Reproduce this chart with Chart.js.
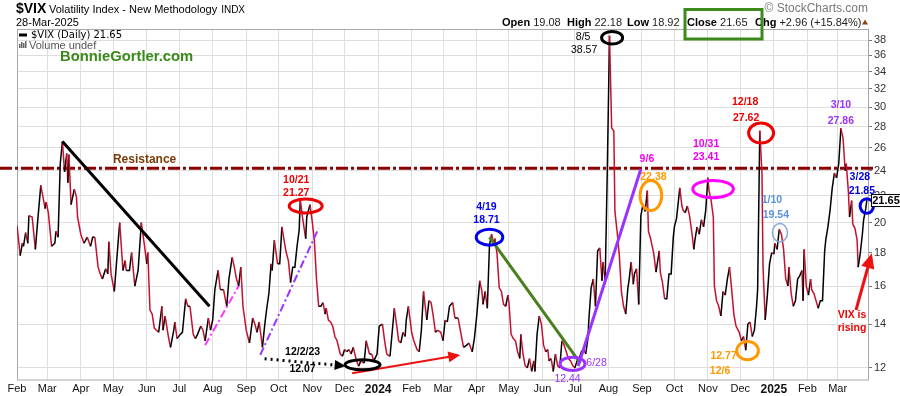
<!DOCTYPE html>
<html>
<head>
<meta charset="utf-8">
<title>$VIX Daily</title>
<script src="https://cdn.jsdelivr.net/npm/chart.js@4.4.1/dist/chart.umd.min.js"></script>
<style>
  html, body { margin: 0; padding: 0; background: #fff; }
  #wrap { width: 900px; height: 396px; }
</style>
</head>
<body>
<div id="wrap"><canvas id="vixChart" width="900" height="396"></canvas></div>
<script>
// VIX daily close, x = calendar days counted from 1 Feb 2023
var days = [
  0,3,5,6,8,10,11,14,17,19, 22,24,26,27,29,32,35,36,38,40,
  42,44,46,47,48,50,53,55,56,59, 62,65,68,70,72,75,77,79,82,84,
  85,87,90,93,95,98,100,101,104,106, 109,112,115,118,120,121,123,125,127,129,
  131,134,135,137,140,142,145,146,148,151, 153,156,158,160,163,165,167,170,172,174,
  177,179,181,183,186,188,191,194,196,
  199,201,203,205,207,209,212,215,218,220, 222,224,227,229,231,233,235,236,238,241,
  243,245,247,249,251,253,255,257,259,261, 262,264,267,268,271,273,275,277,279,281,
  283,285,286,288,290,292,294,296,299,301, 303,305,307,309,311,314,316,318,321,323,
  326,328,330,333,335,338,340,342,345,347, 349,351,353,355,357,359,360,362,365,367,
  370,372,374,376,379,381,383,385,387,389, 392,394,396,398,400,
  403,405,408,410,413,416,418,421,423,425, 428,430,431,433,435,437,439,441,442,444,
  446,448,450,452,454,455,457,459,461,463, 465,466,468,470,472,474,476,478,479,481,
  483,485,487,489,491,492,494,496,498,500, 502,504,506,508,510,512,514,516,518,520,
  522,524,526,528,529,531,533,535,537,539, 541,542,544,546,548,550,552,553,555,557,
  559,561,563,565,566,568,570,571,573,575, 577,579,581,583,584,586,589,591,594,595,
  597,599,601,603,
  605,607,608,610,613,615,616,618,620,622, 624,626,627,629,631,633,635,637,639,640,
  642,644,645,647,649,651,653,655,657,659, 661,663,665,668,670,672,674,676,678,680,
  682,684,685,687,689,690,692,694,696,698, 700,701,703,705,707,709,711,713,714,716,
  718,720,722,724,726,727,728,730,732,734, 735,737,739,741,743,745,747,748,750,752,
  754,756,758,760,762,764,766,767,769,770, 772,773,775,777,778,780,782,783,785,786
];
var vixClose = [
  19.8,17.8,18.6,18.4,19.3,18.6,20.5,20.4,18.2,20.0, 22.8,21.9,21.0,21.5,20.7,18.4,18.6,19.4,19.0,24.6,
  26.6,23.9,25.5,23.0,25.4,21.3,22.5,21.9,20.4,19.2, 18.6,19.0,18.4,19.0,19.0,17.1,16.7,16.4,17.0,16.7,
  18.7,16.7,15.7,18.2,20.0,16.9,17.5,16.9,16.9,18.0, 16.0,16.9,20.0,18.4,17.3,18.0,14.7,14.5,13.8,13.7,
  13.6,14.9,13.7,14.4,13.4,12.9,13.7,14.1,13.3,13.5, 13.6,15.3,14.9,14.9,13.5,13.3,13.5,13.9,13.7,13.2,
  14.3,13.7,14.2,15.8,16.9,15.8,15.8,14.9,16.4,
  17.7,17.1,16.4,16.0,17.1,14.9,13.7,13.1,14.3,14.0, 13.6,14.1,12.9,13.9,14.8,15.6,17.3,16.9,18.8,17.3,
  17.3,19.7,18.8,18.0,17.5,16.2,17.1,17.1,18.4,19.5, 21.7,20.4,18.9,20.4,21.3,20.1,18.8,16.4,14.9,14.9,
  15.1,14.5,14.8,14.2,14.1,13.9,13.4,13.2,12.6,12.5, 12.8,12.7,12.8,12.6,12.9,12.3,12.07,12.3,12.2,13.2,
  12.6,12.6,12.3,12.6,13.9,14.0,13.2,12.6,12.5,13.6, 14.8,14.0,13.2,13.1,13.6,13.4,14.2,14.9,13.6,13.2,
  12.8,12.7,13.7,15.7,14.2,15.2,15.1,14.4,13.6,13.7, 13.6,13.2,14.2,14.1,14.9,
  15.1,14.3,14.3,13.7,12.9,13.0,13.1,12.7,13.3,14.3, 16.3,15.7,15.0,15.7,14.8,18.5,19.2,18.5,18.9,17.9,
  15.9,15.7,15.0,14.9,15.5,15.1,13.5,13.3,13.2,12.7, 12.4,13.5,12.6,12.1,12.0,12.4,11.85,12.3,11.85,13.5,
  14.4,14.0,13.0,12.7,12.8,12.3,12.4,11.85,12.6,12.1, 12.0,13.2,13.0,12.7,12.4,12.3,12.1,12.0,12.3,12.4,
  12.7,12.8,12.6,13.3,14.3,15.9,16.4,14.9,18.1,18.3, 16.3,17.4,16.3,24.2,38.57,27.9,27.6,20.8,19.4,17.9,
  15.7,14.9,14.5,15.9,16.3,17.4,16.1,16.7,17.0,15.0, 20.5,21.3,20.8,22.38,19.4,18.9,17.9,16.8,18.1,16.8,
  16.2,15.3,15.3,16.7,
  16.7,19.0,19.7,20.3,22.6,21.2,20.9,20.7,21.2,20.5, 19.4,18.2,18.8,19.7,19.2,20.2,19.7,20.9,23.41,22.4,
  21.6,20.4,16.0,15.2,14.9,14.4,15.7,15.5,16.4,17.1, 15.8,14.5,13.9,13.6,13.2,13.4,12.77,14.0,14.1,13.4,
  13.7,14.9,15.8,27.62,23.8,17.1,14.2,15.5,17.3,18.0, 17.9,18.6,18.2,19.54,19.2,18.2,16.4,16.0,17.1,15.6,
  14.9,15.2,16.4,16.6,16.9,15.2,18.2,16.0,15.5,16.4, 15.8,15.6,15.2,14.8,15.2,15.2,18.1,18.8,19.7,20.9,
  22.6,23.8,23.4,24.6,27.86,26.9,24.0,24.6,22.2,20.4, 21.6,19.9,19.6,18.8,17.1,18.0,19.3,20.2,21.0,21.65
];

// month starts on the same day count, and their labels
var monthStart = [0,28,59,89,120,150,181,212,242,273,303,334,365,394,425,455,486,516,547,578,608,639,669,700,731,759];
var monthLabels = ['Feb','Mar','Apr','May','Jun','Jul','Aug','Sep','Oct','Nov','Dec','2024','Feb','Mar','Apr','May','Jun','Jul','Aug','Sep','Oct','Nov','Dec','2025','Feb','Mar'];
var priceTicks = [12,14,16,18,20,22,24,26,28,30,32,34,36,38];
var resistance = 24.2;
var lastClose = 21.65;
var quoteLabels = ['Open', 'High', 'Low', 'Close', 'Chg'];
var quoteValues = ['19.08', '22.18', '18.92', '21.65', '+2.96 (+15.84%)'];

var FONT = '"Liberation Sans", Arial, sans-serif';
var upColor = '#000000';
var downColor = '#c8102e';
var quoteX = [502, 567, 627, 687, 755];

// drawn-on trend lines, in [day, value]
var guideLines = [
  { from: [42, 26.6], to: [178, 14.9], color: '#000', width: 3 },
  { from: [174, 13.0], to: [205, 16.0], color: '#ff33ff', width: 2, dash: [8, 3, 2, 3] },
  { from: [225, 12.56], to: [279, 19.6], color: '#9933ff', width: 2, dash: [8, 3, 2, 3] },
  { from: [229, 12.39], to: [304, 12.08], color: '#000', width: 3, dash: [2, 4], head: 11 },
  { from: [310, 11.78], to: [410, 12.56], color: '#ee1111', width: 2, head: 12 },
  { from: [437, 19.0], to: [521, 12.2], color: '#4a7f1f', width: 3 },
  { from: [519, 12.08], to: [577, 24.15], color: '#9933ff', width: 3 },
  { from: [776, 14.71], to: [790.6, 17.96], color: '#ee1111', width: 3, head: 15 }
];

// circled points and their notes: text, dx, dy, color, weight
var callouts = [
  { at: [267, 21.2], rx: 16.5, ry: 7, ring: '#ee0000', lw: 3, text: [['10/21', -9.5, -26, '#ee0000'], ['21.27', -9.5, -13, '#ee0000']] },
  { at: [319.6, 12.13], rx: 17.5, ry: 5, ring: '#000', lw: 3, text: [['12/2/23', -60, -13, '#000'], ['12.07', -60, 4, '#000']] },
  { at: [437, 19.0], rx: 13.3, ry: 8, ring: '#0000ee', lw: 3, text: [['4/19', -3, -30, '#0000ee'], ['18.71', -3, -17, '#0000ee']] },
  { at: [513.8, 12.17], rx: 12.5, ry: 6.7, ring: '#9933ff', lw: 3, text: [['6/28', 24, -1, '#9933ff', 'normal'], ['12.44', -5, 15, '#9933ff', 'normal']] },
  { at: [550.4, 38.3], rx: 10.5, ry: 6.3, ring: '#000', lw: 3, text: [['8/5', -29, -1, '#000', 'normal'], ['38.57', -28, 12, '#000', 'normal']] },
  { at: [586.3, 22.0], rx: 10.8, ry: 15, ring: '#ff9900', lw: 3, text: [['9/6', -4, -36, '#ff00ff'], ['22.38', 2.5, -18, '#ff9900']] },
  { at: [643.8, 22.5], rx: 20.3, ry: 8.7, ring: '#ff00ff', lw: 3, text: [['10/31', -7, -45, '#ee00ee'], ['23.41', -7, -32, '#ee00ee']] },
  { at: [675.7, 12.75], rx: 10.8, ry: 9.2, ring: '#ff9900', lw: 3, text: [['12.77', -24, 5, '#ff9900'], ['12/6', -27.5, 20, '#ff9900']] },
  { at: [688.2, 27.4], rx: 12.5, ry: 10, ring: '#ee0000', lw: 3, text: [['12/18', -16, -31, '#ee0000'], ['27.62', -15, -15, '#ee0000']] },
  { at: [705.6, 19.3], rx: 7.5, ry: 9.2, ring: '#86a9e0', lw: 1.5, text: [['1/10', -8, -32.5, '#5b8fe0'], ['19.54', -4, -17.5, '#5b8fe0']] },
  { at: [762, 27.86], rx: 0, text: [['3/10', 0, -23, '#9933ff'], ['27.86', 0, -7, '#9933ff']] },
  { at: [786, 21.2], rx: 6.7, ry: 7.3, ring: '#0000dd', lw: 3, text: [['3/28', -7, -29, '#0000dd'], ['21.85', -5, -15, '#0000dd']] },
  { at: [776, 14.71], rx: 0, text: [['VIX is', -4, 5, '#ee0000'], ['rising', -4, 18, '#ee0000']] }
];

function arrowHead(ctx, x0, y0, x1, y1, len, color) {
  var a = Math.atan2(y1 - y0, x1 - x0);
  var w = len * 0.45;
  var bx = x1 - Math.cos(a) * len, by = y1 - Math.sin(a) * len;
  ctx.fillStyle = color;
  ctx.beginPath();
  ctx.moveTo(x1, y1);
  ctx.lineTo(bx + Math.sin(a) * w, by - Math.cos(a) * w);
  ctx.lineTo(bx - Math.sin(a) * w, by + Math.cos(a) * w);
  ctx.closePath();
  ctx.fill();
}

var overlay = {
  id: 'overlay',
  beforeDatasetsDraw: function(chart) {
    var ctx = chart.ctx, a = chart.chartArea, x = chart.scales.x, y = chart.scales.y;
    ctx.save();
    ctx.strokeStyle = '#a9a9a9';
    ctx.lineWidth = 1;
    ctx.strokeRect(a.left + 0.5, a.top + 0.5, a.right - a.left - 1, a.bottom - a.top - 0.5);

    var ry = y.getPixelForValue(resistance);
    ctx.strokeStyle = '#8b0000';
    ctx.lineWidth = 3;
    ctx.setLineDash([12, 3, 3, 3]);
    ctx.beginPath();
    ctx.moveTo(0, ry);
    ctx.lineTo(a.right + 7, ry);
    ctx.stroke();
    ctx.setLineDash([]);
    ctx.fillStyle = '#7a3b08';
    ctx.font = 'bold 12px ' + FONT;
    ctx.textAlign = 'center';
    ctx.textBaseline = 'middle';
    ctx.fillText('Resistance', x.getPixelForValue(118), ry - 8.5);
    ctx.restore();
  },
  afterDatasetsDraw: function(chart) {
    var ctx = chart.ctx, x = chart.scales.x, y = chart.scales.y;
    ctx.save();
    guideLines.forEach(function(g) {
      var x0 = x.getPixelForValue(g.from[0]), y0 = y.getPixelForValue(g.from[1]);
      var x1 = x.getPixelForValue(g.to[0]), y1 = y.getPixelForValue(g.to[1]);
      var ex = x1, ey = y1;
      if (g.head) {
        var ang = Math.atan2(y1 - y0, x1 - x0);
        ex = x1 - Math.cos(ang) * g.head * 0.8;
        ey = y1 - Math.sin(ang) * g.head * 0.8;
      }
      ctx.strokeStyle = g.color;
      ctx.lineWidth = g.width;
      ctx.setLineDash(g.dash || []);
      ctx.beginPath();
      ctx.moveTo(x0, y0);
      ctx.lineTo(ex, ey);
      ctx.stroke();
      ctx.setLineDash([]);
      if (g.head) arrowHead(ctx, x0, y0, x1, y1, g.head, g.color);
    });

    ctx.textAlign = 'center';
    ctx.textBaseline = 'middle';
    callouts.forEach(function(c) {
      var cx = x.getPixelForValue(c.at[0]), cy = y.getPixelForValue(c.at[1]);
      if (c.rx) {
        ctx.strokeStyle = c.ring;
        ctx.lineWidth = c.lw;
        ctx.beginPath();
        ctx.ellipse(cx, cy, c.rx, c.ry, 0, 0, Math.PI * 2);
        ctx.stroke();
      }
      c.text.forEach(function(t) {
        ctx.font = (t[4] || 'bold') + ' 10.5px ' + FONT;
        ctx.fillStyle = t[3];
        ctx.fillText(t[0], cx + t[1], cy + t[2]);
      });
    });
    ctx.restore();
  },
  afterDraw: function(chart) {
    var ctx = chart.ctx, y = chart.scales.y, a = chart.chartArea;
    ctx.save();
    ctx.textBaseline = 'middle';
    ctx.textAlign = 'left';

    // title block
    ctx.fillStyle = '#000';
    ctx.font = 'bold 14px ' + FONT;
    ctx.fillText('$VIX', 16, 9.5);
    ctx.font = '11px ' + FONT;
    ctx.fillText('Volatility Index - New Methodology', 49, 10);
    var tw = ctx.measureText('Volatility Index - New Methodology').width;
    ctx.font = '10px ' + FONT;
    ctx.fillText('INDX', 49 + tw + 4, 10.5);
    ctx.font = '11px ' + FONT;
    ctx.fillText('28-Mar-2025', 16, 23);

    ctx.fillStyle = '#777';
    ctx.font = '12px ' + FONT;
    ctx.textAlign = 'right';
    ctx.fillText('\u00a9 StockCharts.com', 868, 9);

    // quote line
    ctx.textAlign = 'left';
    quoteLabels.forEach(function(lab, i) {
      ctx.font = 'bold 11px ' + FONT;
      ctx.fillStyle = '#000';
      ctx.fillText(lab, quoteX[i], 22.5);
      var lw = ctx.measureText(lab + ' ').width;
      ctx.font = '11px ' + FONT;
      ctx.fillStyle = '#222';
      ctx.fillText(quoteValues[i], quoteX[i] + lw, 22.5);
    });
    ctx.fillStyle = '#8b4513';
    ctx.beginPath();
    ctx.moveTo(862, 24.5); ctx.lineTo(868, 24.5); ctx.lineTo(865, 19.5); ctx.closePath();
    ctx.fill();

    ctx.strokeStyle = '#3b8a1b';
    ctx.lineWidth = 3;
    ctx.strokeRect(685, 9.5, 77, 29.5);

    // legend inside the plot
    ctx.strokeStyle = '#000';
    ctx.lineWidth = 3;
    ctx.beginPath(); ctx.moveTo(19, 35); ctx.lineTo(27, 35); ctx.stroke();
    ctx.fillStyle = '#000';
    ctx.font = '10px "DejaVu Sans", sans-serif';
    ctx.fillText('$VIX (Daily) 21.65', 31, 35);
    ctx.fillStyle = '#666';
    ctx.fillRect(19, 44, 1.5, 4); ctx.fillRect(21, 42, 1.5, 6); ctx.fillRect(23, 43, 1.5, 5); ctx.fillRect(25, 41, 1.5, 7);
    ctx.fillStyle = '#555';
    ctx.font = '11px ' + FONT;
    ctx.fillText('Volume undef', 29, 45.5);
    ctx.fillStyle = '#3a8a1a';
    ctx.font = 'bold 14.8px ' + FONT;
    ctx.fillText('BonnieGortler.com', 60, 57);

    // last value tag
    var ly = y.getPixelForValue(lastClose);
    ctx.fillStyle = '#fff';
    ctx.fillRect(a.right + 2, ly - 6, 29, 12);
    ctx.strokeStyle = '#000';
    ctx.lineWidth = 1;
    ctx.strokeRect(a.right + 2.5, ly - 5.5, 29, 12);
    ctx.fillStyle = '#000';
    ctx.font = 'bold 11px ' + FONT;
    ctx.textAlign = 'center';
    ctx.fillText(lastClose.toFixed(2), a.right + 17, ly + 0.5);
    ctx.restore();
  }
};

var points = days.map(function(d, i) { return { x: d, y: vixClose[i] }; });

new Chart(document.getElementById('vixChart'), {
  type: 'line',
  data: {
    datasets: [{
      label: '$VIX (Daily)',
      data: points,
      borderColor: downColor,
      borderWidth: 1.5,
      pointRadius: 0,
      tension: 0,
      segment: {
        borderColor: function(c) { return c.p1.parsed.y >= c.p0.parsed.y ? upColor : downColor; }
      }
    }]
  },
  options: {
    responsive: false,
    animation: false,
    devicePixelRatio: 1,
    layout: { padding: { left: 17, top: 29, right: 0, bottom: 0 } },
    plugins: { legend: { display: false }, tooltip: { enabled: false } },
    scales: {
      x: {
        type: 'linear',
        min: 0,
        max: 788,
        bounds: 'data',
        afterBuildTicks: function(s) { s.ticks = monthStart.map(function(v) { return { value: v }; }); },
        afterFit: function(s) { s.height = 16; },
        grid: { color: '#dedede', drawTicks: false },
        border: { display: false },
        ticks: {
          autoSkip: false,
          maxRotation: 0,
          padding: 2,
          color: '#111',
          callback: function(v, i) { return monthLabels[i]; },
          font: function(c) {
            return /^\d{4}$/.test(monthLabels[c.index]) ? { family: FONT, size: 12, weight: 'bold' } : { family: FONT, size: 11 };
          }
        }
      },
      y: {
        type: 'logarithmic',
        position: 'right',
        min: 11.5,
        max: 39.5,
        bounds: 'data',
        afterBuildTicks: function(s) { s.ticks = priceTicks.map(function(v) { return { value: v }; }); },
        afterFit: function(s) { s.width = 31; },
        grid: { color: '#dedede', tickLength: 3, tickColor: '#777' },
        border: { display: false },
        ticks: {
          padding: 2,
          color: '#333',
          font: { family: FONT, size: 11 },
          callback: function(v) { return String(v); }
        }
      }
    }
  },
  plugins: [overlay]
});
</script>
</body>
</html>
